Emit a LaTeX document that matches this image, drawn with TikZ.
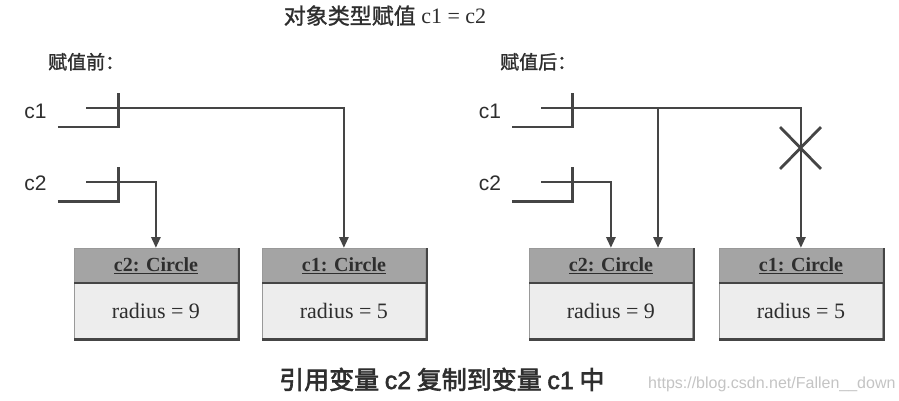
\documentclass[tikz,border=0pt]{standalone}
\usepackage{fontspec}
\setmainfont{Liberation Serif}
\newfontfamily\cjk[FakeBold=1.2]{Noto Sans CJK SC}
\newfontfamily\cjkb[FakeBold=2.5]{Noto Sans CJK SC}
\newfontfamily\lsans{Liberation Sans}
\newfontfamily\lsansb[FakeBold=2]{Liberation Sans}
\usetikzlibrary{arrows.meta,shapes.misc}
\definecolor{ln}{HTML}{454545}
\definecolor{txt}{HTML}{2E2E2E}
\definecolor{hdrgray}{HTML}{A4A4A4}
\definecolor{bodygray}{HTML}{EDEDED}
\definecolor{wm}{HTML}{C4C4C4}
\tikzset{
  conn/.style={draw=ln, line width=2.8pt, -{Triangle[width=9pt,length=11pt]}},
  varbox/.style={minimum width=60pt, minimum height=34pt, inner sep=0pt},
  varl/.style={draw=ln, line width=2.6pt},
  lbl/.style={anchor=base, text=txt, font=\lsans\fontsize{21}{25}\selectfont, inner sep=0pt},
  sect/.style={anchor=base west, text=txt, font=\cjk\fontsize{19}{23}\selectfont, inner sep=0pt},
  hdr/.style={draw=gray!80, line width=0.8pt, fill=hdrgray, minimum width=163pt, minimum height=34pt,
    inner sep=0pt, anchor=north west, text=txt, font=\fontsize{20}{24}\selectfont\bfseries},
  bodybox/.style={draw=gray!80, line width=0.8pt, fill=bodygray, minimum width=163pt, minimum height=55pt,
    inner sep=0pt, anchor=north west, text=txt, font=\fontsize{22}{26}\selectfont},
  shadow/.style={draw=ln, line width=2.6pt},
  xmark/.style={draw=ln, line width=2.8pt, cross out, minimum width=38pt, minimum height=39pt, inner sep=0pt}
}
\begin{document}
\begin{tikzpicture}[x=1pt,y=-1pt]
\useasboundingbox[fill=white] (0,0) rectangle (899,401);

% title and section headings
\node[anchor=base, text=txt, font=\fontsize{22}{26}\selectfont, inner sep=0pt] (title) at (385,24)
  {{\cjk 对象类型赋值} c1 = c2};
\node[sect] (before) at (48,69) {赋值前：};
\node[sect] (after) at (500,69) {赋值后：};

% ---------- left panel ----------
\node[lbl] (lc1) at (35.5,118) {c1};
\node[lbl] (lc2) at (35.5,190) {c2};
\node[varbox] (v1) at (88,110) {};
\node[varbox] (v2) at (88,184) {};
\draw[varl] (v1.south west) -- (v1.south east) -- (v1.north east);
\draw[varl] (v2.south west) -- (v2.south east) -- (v2.north east);

\node[hdr] (h2) at (74,248) {\underline{c2: Circle}};
\node[bodybox] (b2) at (h2.south west) {radius = 9};
\node[hdr] (h1) at (262,248) {\underline{c1: Circle}};
\node[bodybox] (b1) at (h1.south west) {radius = 5};
\draw[shadow] ([xshift=1pt]h2.north east) -- ([xshift=1pt,yshift=-1pt]b2.south east) -- ([yshift=-1pt]b2.south west);
\draw[shadow] ([xshift=1pt]h1.north east) -- ([xshift=1pt,yshift=-1pt]b1.south east) -- ([yshift=-1pt]b1.south west);
\draw[ln, line width=1.4pt] (h2.south west) -- (h2.south east);
\draw[ln, line width=1.4pt] (h1.south west) -- (h1.south east);

\coordinate (s1) at (86,108);
\coordinate (s2) at (86,182);
\draw[conn] (s1) -| (h1.north);
\draw[conn] (s2) -| (h2.north);

% ---------- right panel ----------
\node[lbl] (rc1) at (490,118) {c1};
\node[lbl] (rc2) at (490,190) {c2};
\node[varbox] (w1) at (542.5,110) {};
\node[varbox] (w2) at (542.5,184) {};
\draw[varl] (w1.south west) -- (w1.south east) -- (w1.north east);
\draw[varl] (w2.south west) -- (w2.south east) -- (w2.north east);

\node[hdr] (rh2) at (529,248) {\underline{c2: Circle}};
\node[bodybox] (rb2) at (rh2.south west) {radius = 9};
\node[hdr] (rh1) at (719,248) {\underline{c1: Circle}};
\node[bodybox] (rb1) at (rh1.south west) {radius = 5};
\draw[shadow] ([xshift=1pt]rh2.north east) -- ([xshift=1pt,yshift=-1pt]rb2.south east) -- ([yshift=-1pt]rb2.south west);
\draw[shadow] ([xshift=1pt]rh1.north east) -- ([xshift=1pt,yshift=-1pt]rb1.south east) -- ([yshift=-1pt]rb1.south west);
\draw[ln, line width=1.4pt] (rh2.south west) -- (rh2.south east);
\draw[ln, line width=1.4pt] (rh1.south west) -- (rh1.south east);

\coordinate (t1) at (541,108);
\coordinate (t2) at (541,182);
\coordinate (br) at (658,108);
\draw[conn] (t1) -| (rh1.north);
\draw[conn] (br) -- (br |- rh2.north);
\draw[conn] (t2) -| (rh2.north);
\node[xmark] (cut) at (800.5,148) {};

% caption and watermark
\node[anchor=base west, text=txt, font=\cjkb\fontsize{25}{30}\selectfont, inner sep=0pt] (cap) at (279,389)
  {引用变量 {\lsansb c2} 复制到变量 {\lsansb c1} 中};
\node[anchor=base west, text=wm, font=\lsans\fontsize{16}{19}\selectfont, inner sep=0pt] (wmark) at (648,388)
  {https://blog.csdn.net/Fallen\_\_down};
\end{tikzpicture}
\end{document}
